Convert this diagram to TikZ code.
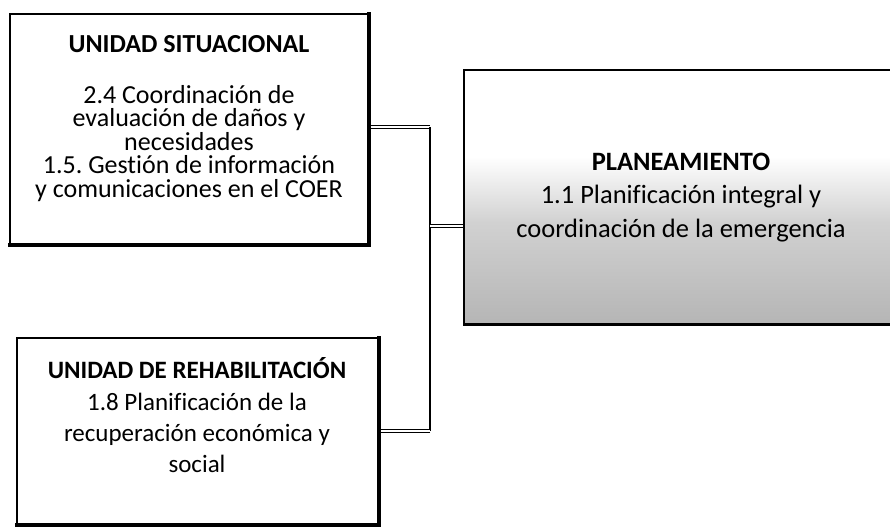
\documentclass[tikz,border=0pt]{standalone}
\usepackage{fontspec}
\setmainfont{Carlito}[Ligatures=NoCommon]
\pgfdeclareverticalshading{planshade}{100bp}{color(0bp)=(black!32); color(25bp)=(black!29); color(45bp)=(black!18); color(58bp)=(white); color(100bp)=(white)}
\frenchspacing
\begin{document}
\begin{tikzpicture}[x=1pt,y=-1pt,
  boxframe/.style={draw=black, line width=1.6pt, fill=white, inner sep=0pt},
  heavy/.style={draw=black, line width=3.4pt, line cap=rect},
  link/.style={draw=black, double=white, double distance=2.2pt, line width=0.9pt},
  spine/.style={draw=black, line width=1.3pt},
  txt/.style={align=center, anchor=base, inner sep=0pt}
]
\useasboundingbox (0,0) rectangle (890,531);
\fill[white] (0,0) rectangle (890,531);

% junction coordinates
\coordinate (j1) at (430,127);
\coordinate (j2) at (430,431);
\coordinate (j3) at (430,226);

% box centres
\path (189,129) coordinate (c1) (197.5,431) coordinate (c2) (682,197) coordinate (c3);

% invisible box outlines used by the connectors
\node[minimum width=358pt, minimum height=230pt, inner sep=0pt] (us) at (c1) {};
\node[minimum width=361pt, minimum height=186pt, inner sep=0pt] (rh) at (c2) {};
\node[minimum width=436pt, minimum height=254pt, inner sep=0pt] (pl) at (c3) {};
\draw[link] (us.east |- j1) -- (j1);
\draw[spine] (j1) -- (j2);
\draw[link] (j2) -- (rh.east |- j2);
\draw[link] (j3) -- (pl.west |- j3);

% box frames
\node[boxframe, minimum width=358pt, minimum height=230pt] (usf) at (c1) {};
\draw[heavy] (usf.north east) -- (usf.south east) -- (usf.south west);
\node[boxframe, minimum width=361pt, minimum height=186pt] (rhf) at (c2) {};
\draw[heavy] (rhf.north east) -- (rhf.south east) -- (rhf.south west);
\node[boxframe, shading=planshade, line width=1.4pt, minimum width=436pt, minimum height=254pt] (plf) at (c3) {};
\draw[draw=black, line width=2.6pt] (plf.south west) -- (plf.south east);

% texts (base = baseline of the last line)
\node[txt, font=\fontsize{26}{23.5}\selectfont\bfseries] (t1) at (189,52) {UNIDAD SITUACIONAL};
\node[txt, font=\fontsize{26}{23.5}\selectfont] (b1) at (189,197) {2.4 Coordinación de\\evaluación de daños y\\necesidades\\1.5. Gestión de información\\y comunicaciones en el COER};
\node[txt, font=\fontsize{25}{31}\selectfont\bfseries] (t2) at (197,378) {UNIDAD DE REHABILITACIÓN};
\node[txt, font=\fontsize{25}{31}\selectfont] (b2) at (197,472) {1.8 Planificación de la\\recuperación económica y\\social};
\node[txt, font=\fontsize{26.5}{33.5}\selectfont\bfseries] (t3) at (681,170) {PLANEAMIENTO};
\node[txt, font=\fontsize{26.5}{33.5}\selectfont] (b3) at (681,237) {1.1 Planificación integral y\\coordinación de la emergencia};
\end{tikzpicture}
\end{document}
